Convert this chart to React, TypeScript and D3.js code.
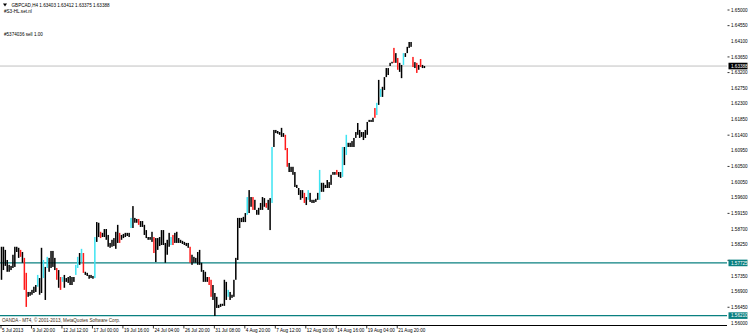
import React from "react";
import * as d3 from "d3";

const SYMBOL = "GBPCAD,H4";
const OHLC = ["1.63403", "1.63412", "1.63375", "1.63388"];
const INDICATOR = "#S3-HL.set.nl";
const ORDER = "#5374036 sell 1.00";
const COPYRIGHT = "OANDA - MT4, \u00A9 2001-2013, MetaQuotes Software Corp.";

const DATE_LABELS = [
  "5 Jul 2013", "9 Jul 20:00", "12 Jul 12:00", "17 Jul 00:00", "19 Jul 16:00",
  "24 Jul 04:00", "26 Jul 20:00", "31 Jul 08:00", "4 Aug 20:00", "7 Aug 12:00",
  "12 Aug 00:00", "14 Aug 16:00", "19 Aug 04:00", "21 Aug 20:00",
];
const DATE_BARS = [0, 16, 32, 48, 64, 80, 96, 112, 128, 144, 160, 176, 192, 208];

const PRICE_TICKS = [
  1.65, 1.6455, 1.641, 1.6365, 1.632, 1.6275, 1.623, 1.6185, 1.614, 1.6095,
  1.605, 1.6005, 1.596, 1.5915, 1.587, 1.5825, 1.578, 1.5735, 1.569, 1.5645, 1.56,
];
const MARKED_TICKS = [0, 1, 3, 4, 8, 10, 13, 16, 19];

const BID = 1.63388;
const LEVELS = [1.57725, 1.5621];

const HIGHS = [
  1.5819, 1.5819, 1.5810, 1.5781, 1.5767, 1.5764, 1.5796, 1.5819, 1.5819, 1.5816,
  1.5810, 1.5804, 1.5787, 1.5744, 1.5689, 1.5689, 1.5695, 1.5704, 1.5709, 1.5738,
  1.5729, 1.5816, 1.5781, 1.5761, 1.5790, 1.5787, 1.5807, 1.5807, 1.5787, 1.5758,
  1.5752, 1.5732, 1.5732, 1.5738, 1.5729, 1.5732, 1.5735, 1.5732, 1.5732, 1.5767,
  1.5790, 1.5801, 1.5813, 1.5801, 1.5747, 1.5744, 1.5738, 1.5738, 1.5735, 1.5847,
  1.5890, 1.5888, 1.5862, 1.5859, 1.5870, 1.5870, 1.5853, 1.5830, 1.5839, 1.5844,
  1.5862, 1.5882, 1.5859, 1.5853, 1.5856, 1.5859, 1.5859, 1.5859, 1.5902, 1.5936,
  1.5902, 1.5899, 1.5899, 1.5893, 1.5893, 1.5882, 1.5867, 1.5847, 1.5847, 1.5862,
  1.5847, 1.5844, 1.5844, 1.5847, 1.5867, 1.5867, 1.5830, 1.5839, 1.5859, 1.5847,
  1.5853, 1.5859, 1.5862, 1.5844, 1.5839, 1.5836, 1.5833, 1.5830, 1.5830, 1.5819,
  1.5796, 1.5790, 1.5787, 1.5804, 1.5810, 1.5773, 1.5752, 1.5747, 1.5732, 1.5732,
  1.5724, 1.5709, 1.5686, 1.5675, 1.5652, 1.5655, 1.5655, 1.5724, 1.5718, 1.5695,
  1.5689, 1.5681, 1.5724, 1.5787, 1.5902, 1.5902, 1.5902, 1.5905, 1.5916, 1.5962,
  1.5982, 1.5962, 1.5962, 1.5954, 1.5925, 1.5931, 1.5945, 1.5962, 1.5959, 1.5945,
  1.5954, 1.5959, 1.6106, 1.6155, 1.6155, 1.6152, 1.6149, 1.6161, 1.6146, 1.6141,
  1.6103, 1.6060, 1.6049, 1.6049, 1.6034, 1.5997, 1.5988, 1.5982, 1.5982, 1.5974,
  1.5962, 1.5982, 1.5974, 1.5954, 1.5954, 1.5957, 1.5974, 1.6040, 1.6003, 1.6003,
  1.5997, 1.6011, 1.6005, 1.6026, 1.6034, 1.6034, 1.6040, 1.6034, 1.6034, 1.6106,
  1.6106, 1.6141, 1.6118, 1.6118, 1.6123, 1.6132, 1.6149, 1.6175, 1.6155, 1.6149,
  1.6149, 1.6155, 1.6178, 1.6184, 1.6184, 1.6190, 1.6218, 1.6233, 1.6299, 1.6273,
  1.6279, 1.6307, 1.6333, 1.6333, 1.6348, 1.6351, 1.6391, 1.6376, 1.6362, 1.6348,
  1.6342, 1.6376, 1.6376, 1.6394, 1.6408, 1.6408, 1.6365, 1.6350, 1.6348, 1.6342,
  1.6359, 1.6342, 1.6339,
];

const LOWS = [
  1.5724, 1.5752, 1.5764, 1.5747, 1.5747, 1.5752, 1.5758, 1.5761, 1.5804, 1.5787,
  1.5790, 1.5773, 1.5695, 1.5646, 1.5675, 1.5678, 1.5681, 1.5686, 1.5689, 1.5704,
  1.5681, 1.5686, 1.5729, 1.5666, 1.5758, 1.5747, 1.5758, 1.5761, 1.5752, 1.5724,
  1.5701, 1.5695, 1.5718, 1.5701, 1.5718, 1.5715, 1.5709, 1.5709, 1.5718, 1.5738,
  1.5758, 1.5767, 1.5775, 1.5744, 1.5738, 1.5735, 1.5727, 1.5729, 1.5727, 1.5729,
  1.5833, 1.5847, 1.5844, 1.5847, 1.5847, 1.5839, 1.5819, 1.5816, 1.5819, 1.5821,
  1.5813, 1.5830, 1.5830, 1.5839, 1.5844, 1.5847, 1.5850, 1.5847, 1.5873, 1.5873,
  1.5888, 1.5888, 1.5882, 1.5876, 1.5876, 1.5853, 1.5844, 1.5839, 1.5839, 1.5833,
  1.5801, 1.5775, 1.5810, 1.5821, 1.5824, 1.5824, 1.5773, 1.5796, 1.5819, 1.5824,
  1.5824, 1.5830, 1.5830, 1.5830, 1.5830, 1.5827, 1.5824, 1.5821, 1.5816, 1.5773,
  1.5767, 1.5773, 1.5773, 1.5767, 1.5767, 1.5747, 1.5718, 1.5718, 1.5718, 1.5709,
  1.5675, 1.5666, 1.5620, 1.5643, 1.5643, 1.5646, 1.5649, 1.5649, 1.5666, 1.5675,
  1.5666, 1.5672, 1.5675, 1.5724, 1.5781, 1.5873, 1.5890, 1.5890, 1.5890, 1.5911,
  1.5916, 1.5934, 1.5925, 1.5925, 1.5911, 1.5911, 1.5925, 1.5925, 1.5934, 1.5931,
  1.5925, 1.5867, 1.5945, 1.6106, 1.6146, 1.6144, 1.6141, 1.6135, 1.6135, 1.6097,
  1.6049, 1.6034, 1.6034, 1.6026, 1.5991, 1.5988, 1.5968, 1.5954, 1.5959, 1.5945,
  1.5939, 1.5954, 1.5948, 1.5945, 1.5945, 1.5948, 1.5954, 1.5954, 1.5977, 1.5977,
  1.5988, 1.5988, 1.5988, 1.5997, 1.6026, 1.6026, 1.6026, 1.6020, 1.6017, 1.6020,
  1.6054, 1.6083, 1.6106, 1.6106, 1.6106, 1.6106, 1.6132, 1.6141, 1.6132, 1.6135,
  1.6126, 1.6132, 1.6141, 1.6178, 1.6178, 1.6178, 1.6190, 1.6198, 1.6227, 1.6250,
  1.6250, 1.6270, 1.6307, 1.6313, 1.6339, 1.6347, 1.6348, 1.6348, 1.6328, 1.6322,
  1.6304, 1.6342, 1.6365, 1.6376, 1.6391, 1.6394, 1.6336, 1.6333, 1.6319, 1.6328,
  1.6336, 1.6333, 1.6333,
];

const RED_BARS = [10, 12, 13, 29, 31, 43, 52, 62, 72, 80, 90, 99, 109, 110, 132, 139, 149, 150, 159, 176, 196, 206, 208, 216, 218, 220];
const CYAN_BARS = [19, 22, 24, 32, 39, 40, 42, 49, 68, 89, 119, 129, 142, 161, 167, 179, 181, 197, 199, 211];

const W = 750;
const H = 334;
const FONT = "'Liberation Sans', Arial, sans-serif";
const FS = 4.6;
const TEAL = "#0a8080";
const CYAN = "#3fe4f2";
const RED = "#ff1a1a";

export default function App() {
  const n = HIGHS.length;
  const x = d3.scaleLinear().domain([0, n - 1]).range([1.5, 1.5 + (n - 1) * 1.905]);
  const y = d3.scaleLinear().domain([1.56, 1.65]).range([322.9, 10]);
  const plotRight = 727;
  const axisY = 325.5;

  const bars = d3.range(n).map((i) => {
    const y1 = y(HIGHS[i]);
    const y2 = y(LOWS[i]);
    const color = RED_BARS.includes(i) ? RED : CYAN_BARS.includes(i) ? CYAN : "#000";
    return { i, y1, h: Math.max(1.6, y2 - y1), color };
  });

  const boxed = [BID, ...LEVELS].map((v) => y(v));
  const hiddenTick = (p: number) => boxed.some((by) => Math.abs(by - y(p)) < 6.5);

  return (
    <svg
      width={W}
      height={H}
      style={{ position: "absolute", left: 0, top: 0, background: "#fff" }}
      fontFamily={FONT}
    >
      <rect x={0} y={0} width={W} height={H} fill="#fff" />
      <line x1={0} x2={plotRight} y1={y(BID)} y2={y(BID)} stroke="#c0c0c0" strokeWidth={1} />
      {LEVELS.map((lv, k) => (
        <line key={k} x1={0} x2={plotRight} y1={y(lv)} y2={y(lv)} stroke={TEAL} strokeWidth={1.3} />
      ))}
      {bars.map((b) => (
        <rect key={b.i} x={x(b.i) - 0.75} y={b.y1} width={1.5} height={b.h} fill={b.color} />
      ))}
      <line x1={0} x2={plotRight} y1={axisY} y2={axisY} stroke="#000" strokeWidth={1} />
      {DATE_BARS.map((t, k) => (
        <g key={k}>
          <line x1={x(t) - 0.5} x2={x(t) - 0.5} y1={axisY} y2={axisY + 3} stroke="#000" strokeWidth={0.8} />
          <text x={x(t) + 0.5} y={332.2} fontSize={FS} fill="#000">
            {DATE_LABELS[k]}
          </text>
        </g>
      ))}
      <text x={2} y={322.3} fontSize={FS} fill="#3a2a10">
        {COPYRIGHT}
      </text>
      {PRICE_TICKS.map((p, k) => (
        <g key={k}>
          {MARKED_TICKS.includes(k) && (
            <line x1={727.5} x2={729.5} y1={y(p)} y2={y(p)} stroke="#000" strokeWidth={0.8} />
          )}
          {!hiddenTick(p) && (
            <text x={731} y={y(p) + 1.6} fontSize={FS} fill="#000">
              {p.toFixed(5)}
            </text>
          )}
        </g>
      ))}
      {LEVELS.map((lv, k) => (
        <g key={"lv" + k}>
          <rect x={728.5} y={y(lv) - 3.3} width={19} height={6.6} fill={TEAL} />
          <text x={731} y={y(lv) + 1.6} fontSize={FS} fill="#fff">
            {lv.toFixed(5)}
          </text>
        </g>
      ))}
      <rect x={728.5} y={y(BID) - 3.3} width={19} height={6.6} fill="#000" />
      <text x={731} y={y(BID) + 1.6} fontSize={FS} fill="#fff">
        {BID.toFixed(5)}
      </text>
      <path d="M3,3.6 L7,3.6 L5,6.4 Z" fill="#000" />
      <text x={11.5} y={6.6} fontSize={FS} fill="#000">
        {SYMBOL + " " + OHLC.join(" ")}
      </text>
      <text x={4} y={12.6} fontSize={FS} fill="#000">
        {INDICATOR}
      </text>
      <text x={4} y={36} fontSize={FS} fill="#000">
        {ORDER}
      </text>
    </svg>
  );
}
